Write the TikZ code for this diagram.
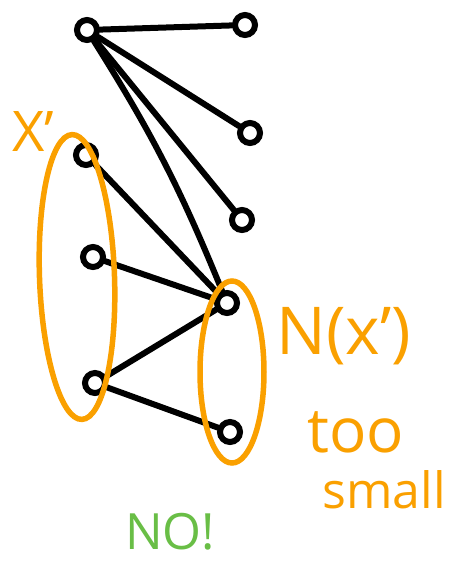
\documentclass[tikz,border=0pt]{standalone}
\usepackage{fontspec}
\setmainfont{Open Sans}
\usepackage{tikz}
\usetikzlibrary{positioning,shapes.geometric}
\definecolor{hlorange}{RGB}{250,160,0}
\definecolor{hlgreen}{RGB}{105,190,70}

\begin{document}
\begin{tikzpicture}[x=1pt,y=-1pt,
  vtx/.style={circle,draw,line width=6pt,minimum size=20pt,inner sep=0pt},
  edge/.style={line width=6pt,line cap=round},
  blob/.style={ellipse,draw=hlorange,line width=5.5pt,inner sep=0pt},
  note/.style={text=hlorange,font=\fontsize{50}{54}\selectfont,inner sep=0pt}]
\useasboundingbox (0,0) rectangle (449,563);

\node[vtx] (h) at (87,30) {};

\node[vtx] (r1) at (245,25) {};
\node[vtx] (r2) at (250,133) {};
\node[vtx] (r3) at (242,220) {};

\node[vtx] (x1) at (86,155) {};
\node[vtx] (x2) at (93,257) {};
\node[vtx] (x3) at (95,383) {};

\node[vtx] (n1) at (227,303) {};
\node[vtx] (n2) at (230,432) {};

\draw[edge] (h)--(r1);
\draw[edge] (h)--(r2);
\draw[edge] (h)--(r3);
\draw[edge] (h) to[bend left=5] (n1);

\draw[edge] (x1)--(n1);
\draw[edge] (x2)--(n1);
\draw[edge] (x3)--(n1);
\draw[edge] (x3)--(n2);

\node[blob,minimum width=75pt,minimum height=285pt,rotate=2] (X) at (77,277) {};
\node[blob,minimum width=64pt,minimum height=182pt] (N) at (232,372) {};

\node[note,font=\fontsize{56}{60}\selectfont] (Xlab) at (33,132) {X'};
\node[note,font=\fontsize{66}{70}\selectfont] (Nlab) at (344,336) {N(x')};
\node[note,font=\fontsize{62}{66}\selectfont] (too) at (356,432) {too};
\node[note,font=\fontsize{50}{54}\selectfont] (small) at (384,490) {small};
\node[note,text=hlgreen,font=\fontsize{50}{54}\selectfont] (no) at (170,532) {NO!};
\end{tikzpicture}
\end{document}
